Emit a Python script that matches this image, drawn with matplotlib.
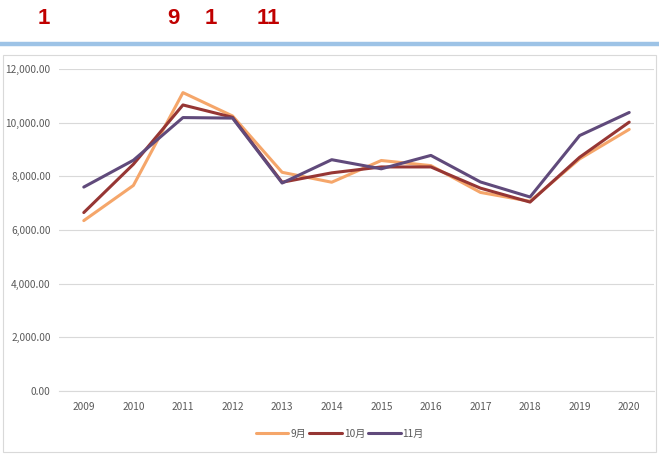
import matplotlib.pyplot as plt
from matplotlib.patches import Rectangle
from matplotlib.lines import Line2D

plt.rcParams['font.family'] = ['Noto Sans CJK SC', 'DejaVu Sans']

years = [2009, 2010, 2011, 2012, 2013, 2014, 2015, 2016, 2017, 2018, 2019, 2020]
sep = [6350, 7660, 11120, 10250, 8150, 7780, 8590, 8400, 7400, 7070, 8650, 9750]
oct_ = [6650, 8450, 10660, 10200, 7780, 8130, 8350, 8350, 7560, 7040, 8710, 10020]
nov = [7600, 8600, 10190, 10170, 7750, 8620, 8280, 8780, 7790, 7230, 9520, 10380]
labels = ['9月', '10月', '11月']
colors = ['#F5A66A', '#963634', '#604A7B']

fig = plt.figure(figsize=(6.59, 4.54), dpi=100)

# title digits (the original glyphs beside them are missing)
for xp, t in [(44, '1'), (173, '9'), (211, '1'), (268, '11')]:
    fig.text(xp / 659, 1 - 18 / 454, t, color='#C00000', fontsize=16,
             fontweight='bold', family='Liberation Sans', ha='center', va='center')

# blue rule under the title
fig.add_artist(Line2D([2 / 659, 1], [1 - 44 / 454] * 2, color='#9DC3E6', lw=3.2))

# chart frame
fig.add_artist(Rectangle((3 / 659, 2 / 454), 653 / 659, 450 / 454 - 53 / 454,
                         fill=False, edgecolor='#D9D9D9', lw=0.8,
                         transform=fig.transFigure))

ax = fig.add_axes([59 / 659, 63 / 454, 595 / 659, 322 / 454])
for vals, lab, c in zip([sep, oct_, nov], labels, colors):
    ax.plot(years, vals, color=c, lw=2.2, label=lab, solid_capstyle='round')

ax.set_xlim(2008.5, 2020.5)
ax.set_ylim(0, 12000)
ax.set_xticks(years)
ax.set_xticklabels([str(y) for y in years])
ax.set_yticks(range(0, 12001, 2000))
ax.set_yticklabels([f'{v:,.2f}' for v in range(0, 12001, 2000)])
ax.grid(axis='y', color='#D9D9D9', lw=0.8)
ax.set_axisbelow(True)
for s in ['top', 'right', 'left']:
    ax.spines[s].set_visible(False)
ax.spines['bottom'].set_color('#D9D9D9')
ax.tick_params(length=0, labelsize=7.3, colors='#595959', pad=8)
ax.tick_params(axis='y', pad=6)

ax.legend(loc='center', bbox_to_anchor=(340 / 659, 1 - 434 / 454),
          bbox_transform=fig.transFigure, ncol=3, frameon=False,
          fontsize=7.3, labelcolor='#595959', handlelength=3.2,
          handletextpad=0.2, columnspacing=0.3)

fig.savefig('out.png', dpi=100)
